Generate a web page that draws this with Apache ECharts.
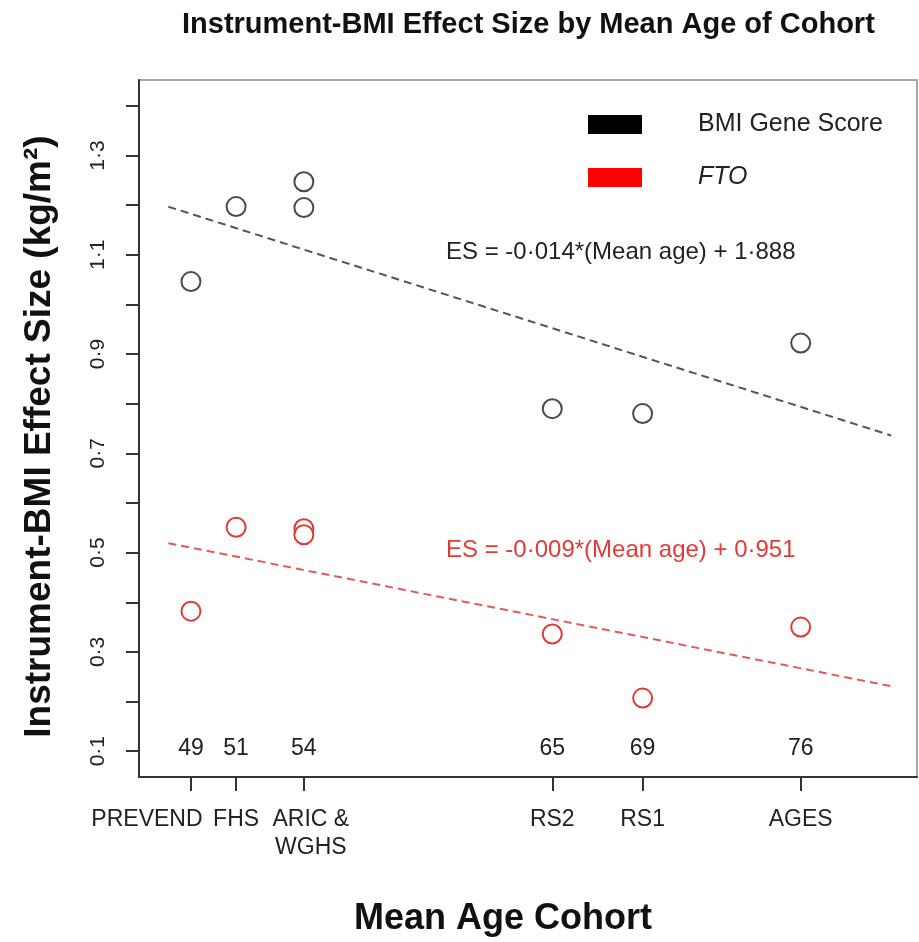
<!DOCTYPE html>
<html>
<head>
<meta charset="utf-8">
<script src="https://cdn.jsdelivr.net/npm/echarts@6/dist/echarts.min.js"></script>
<style>
  html, body { margin: 0; padding: 0; background: #ffffff; }
  #chart { width: 919px; height: 942px; }
</style>
</head>
<body>
<div id="chart"></div>
<script>
// Mean age of each cohort and the effect sizes measured in it
const ages = [49, 51, 54, 54, 65, 69, 76];
const geneScore = [1.046, 1.197, 1.247, 1.195, 0.790, 0.780, 0.922];
const ftoEffect = [0.382, 0.551, 0.548, 0.536, 0.336, 0.207, 0.350];

// Cohort ticks along the age axis
const cohortAges = [49, 51, 54, 65, 69, 76];
const cohortNames = ['PREVEND', 'FHS', 'ARIC &\nWGHS', 'RS2', 'RS1', 'AGES'];

// Effect-size axis: tick marks and the values that carry a label
const yTicks = [0.1, 0.2, 0.3, 0.4, 0.5, 0.6, 0.7, 0.8, 0.9, 1.0, 1.1, 1.2, 1.3, 1.4];
const yLabels = [0.1, 0.3, 0.5, 0.7, 0.9, 1.1, 1.3];

// Linear fits: ES = slope * (mean age) + intercept
const fitSlopes = [-0.0144, -0.009];
const fitIntercepts = [1.888, 0.951];
const fitAgeRange = [48, 80];

const seriesNames = ['BMI Gene Score', 'FTO'];
const GREY = '#4a4a4a';
const RED = '#e23a36';
const FONT = '"Liberation Sans", Arial, Helvetica, sans-serif';
const AGE_MIN = 46.7;
const AGE_MAX = 81.15;

const midDot = (v, d) => v.toFixed(d).replace('.', '\u00b7');
const fitLine = i => fitAgeRange.map(a => [a, fitSlopes[i] * a + fitIntercepts[i]]);
const fitText = i => 'ES = ' + midDot(fitSlopes[i], 3) + '*(Mean age) + ' + midDot(fitIntercepts[i], 3);

const labelFont = { fontFamily: FONT, fontSize: 23, color: '#222', lineHeight: 28 };
const keepAll = { hideOverlap: false, showMinLabel: true, showMaxLabel: true };

// horizontal nudge of a cohort name off its tick (PREVEND sits to the left)
const nudge = name => name === 'PREVEND' ? [0, 88, 0, 0] : (name.indexOf('\n') >= 0 ? [0, 0, 0, 14] : [0, 0, 0, 0]);

// bare value axis sharing the plot's age range, used for label rows
const labelAxis = extra => Object.assign({
  type: 'value',
  min: AGE_MIN,
  max: AGE_MAX,
  position: 'bottom',
  splitLine: { show: false },
  axisLine: { show: false },
  axisTick: { show: false }
}, extra);

// one label axis per cohort name, so close names never compete for room
const cohortLabelAxes = cohortNames.map((name, i) => labelAxis({
  axisLabel: Object.assign({
    show: true,
    customValues: [cohortAges[i]],
    margin: 29,
    formatter: () => name.split('\n').map(s => '{c|' + s + '}').join('\n'),
    rich: { c: Object.assign({ padding: nudge(name) }, labelFont) }
  }, keepAll, labelFont)
}));

const chart = echarts.init(document.getElementById('chart'), null, { renderer: 'canvas' });

chart.setOption({
  animation: false,
  backgroundColor: '#ffffff',
  textStyle: { fontFamily: FONT },
  title: {
    text: 'Instrument-BMI Effect Size by Mean Age of Cohort',
    left: 182,
    top: 10,
    padding: 0,
    textStyle: { fontFamily: FONT, fontSize: 29, fontWeight: 'bold', color: '#111' }
  },
  legend: {
    orient: 'vertical',
    left: 588,
    top: 112,
    padding: 0,
    itemWidth: 54,
    itemHeight: 19,
    itemGap: 28,
    selectedMode: false,
    textStyle: { fontFamily: FONT, fontSize: 25, color: '#222', padding: [0, 0, 0, 51] },
    data: [
      { name: seriesNames[0], icon: 'rect', itemStyle: { color: '#000000', borderWidth: 0, opacity: 1 } },
      { name: seriesNames[1], icon: 'rect', itemStyle: { color: '#ff0000', borderWidth: 0, opacity: 1 },
        textStyle: { fontStyle: 'italic' } }
    ]
  },
  grid: {
    left: 139, right: 2, top: 80, bottom: 165,
    show: true, borderColor: '#a8a8a8', borderWidth: 2,
    containLabel: false
  },
  xAxis: [
    {
      // main age axis: line and cohort ticks
      type: 'value',
      min: AGE_MIN,
      max: AGE_MAX,
      position: 'bottom',
      splitLine: { show: false },
      axisLine: { show: true, lineStyle: { color: '#333', width: 2 } },
      axisTick: { show: true, customValues: cohortAges, length: 14, lineStyle: { color: '#333', width: 2 } },
      axisLabel: { show: false },
      name: 'Mean Age Cohort',
      nameLocation: 'middle',
      nameGap: 124,
      nameTextStyle: { fontFamily: FONT, fontSize: 36, fontWeight: 'bold', color: '#111', padding: [0, 50, 0, 0] }
    },
    labelAxis({
      // mean ages written just inside the plot, above each cohort tick
      axisLabel: Object.assign({
        show: true,
        inside: true,
        customValues: cohortAges,
        margin: 14,
        formatter: v => String(v)
      }, keepAll, labelFont)
    })
  ].concat(cohortLabelAxes),
  yAxis: {
    type: 'value',
    min: 0.048,
    max: 1.452,
    splitLine: { show: false },
    axisLine: { show: true, lineStyle: { color: '#333', width: 2 } },
    axisTick: { show: true, customValues: yTicks, length: 13, lineStyle: { color: '#333', width: 2 } },
    axisLabel: Object.assign({
      show: true,
      customValues: yLabels,
      rotate: 90,
      margin: 30,
      fontFamily: FONT,
      fontSize: 21,
      color: '#222',
      formatter: v => midDot(v, 1)
    }, keepAll),
    name: 'Instrument-BMI Effect Size (kg/m\u00b2)',
    nameLocation: 'middle',
    nameRotate: 90,
    nameGap: 81,
    nameTextStyle: { fontFamily: FONT, fontSize: 37, fontWeight: 'bold', color: '#111', padding: [0, 16, 0, 0] }
  },
  graphic: [
    {
      type: 'text', left: 446, top: 240, silent: true,
      style: { text: fitText(0), fontFamily: FONT, fontSize: 24, fill: '#222' }
    },
    {
      type: 'text', left: 446, top: 538, silent: true,
      style: { text: fitText(1), fontFamily: FONT, fontSize: 24, fill: RED }
    }
  ],
  series: [
    {
      name: seriesNames[0],
      type: 'scatter',
      xAxisIndex: 0,
      symbol: 'emptyCircle',
      symbolSize: 19,
      itemStyle: { color: GREY, borderColor: GREY, borderWidth: 2, opacity: 1 },
      emphasis: { disabled: true },
      data: ages.map((a, i) => [a, geneScore[i]]),
      z: 3
    },
    {
      name: seriesNames[1],
      type: 'scatter',
      xAxisIndex: 0,
      symbol: 'emptyCircle',
      symbolSize: 19,
      itemStyle: { color: RED, borderColor: RED, borderWidth: 2, opacity: 1 },
      emphasis: { disabled: true },
      data: ages.map((a, i) => [a, ftoEffect[i]]),
      z: 3
    },
    {
      name: 'gene score fit',
      type: 'line',
      xAxisIndex: 0,
      showSymbol: false,
      silent: true,
      lineStyle: { color: '#555', width: 2, type: [8, 5] },
      data: fitLine(0),
      z: 2
    },
    {
      name: 'FTO fit',
      type: 'line',
      xAxisIndex: 0,
      showSymbol: false,
      silent: true,
      lineStyle: { color: '#e45a5a', width: 2, type: [8, 5] },
      data: fitLine(1),
      z: 2
    }
  ]
});
</script>
</body>
</html>
